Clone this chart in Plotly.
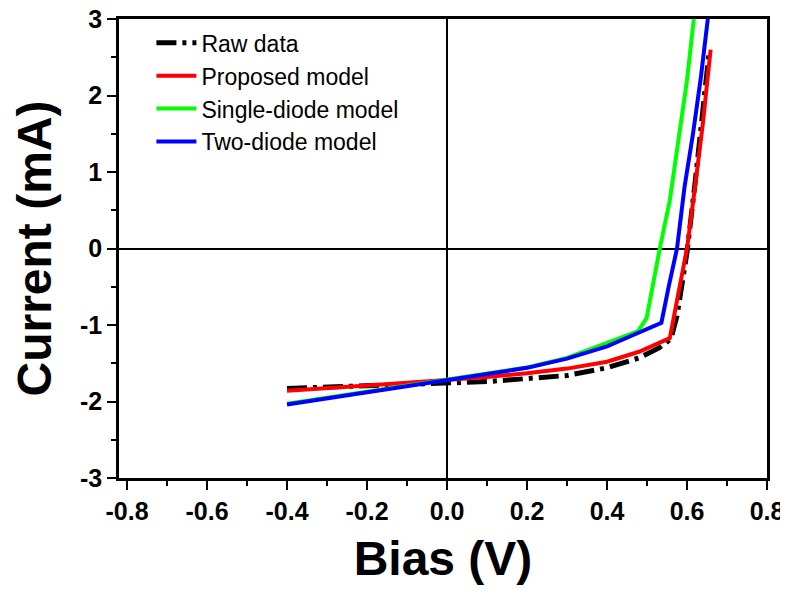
import plotly.graph_objects as go

# ---- data ----
raw_v = [-0.40, -0.30, -0.20, -0.10, 0.00, 0.10, 0.20, 0.30, 0.40, 0.48, 0.53, 0.56, 0.575, 0.60, 0.62, 0.64, 0.655]
raw_i = [-1.83, -1.81, -1.79, -1.77, -1.76, -1.74, -1.70, -1.66, -1.56, -1.43, -1.30, -1.18, -0.88, -0.05, 0.85, 1.80, 2.55]

prop_v = [-0.40, -0.30, -0.20, -0.10, 0.00, 0.10, 0.20, 0.30, 0.40, 0.48, 0.557, 0.58, 0.60, 0.62, 0.64, 0.659]
prop_i = [-1.86, -1.82, -1.79, -1.755, -1.72, -1.68, -1.63, -1.57, -1.48, -1.35, -1.17, -0.55, 0.0, 0.80, 1.65, 2.60]

single_v = [-0.40, -0.30, -0.20, -0.10, 0.00, 0.10, 0.20, 0.30, 0.40, 0.478, 0.499, 0.515, 0.532, 0.557, 0.582, 0.60, 0.617]
single_i = [-2.03, -1.95, -1.87, -1.79, -1.72, -1.64, -1.555, -1.43, -1.23, -1.08, -0.91, -0.45, 0.0, 0.63, 1.50, 2.20, 3.00]

two_v = [-0.40, -0.30, -0.20, -0.10, 0.00, 0.10, 0.20, 0.30, 0.40, 0.457, 0.536, 0.555, 0.575, 0.594, 0.615, 0.635, 0.652]
two_i = [-2.04, -1.96, -1.88, -1.80, -1.72, -1.65, -1.56, -1.44, -1.28, -1.15, -0.97, -0.48, 0.0, 0.81, 1.50, 2.25, 3.00]

x_ticks = [-0.8, -0.6, -0.4, -0.2, 0.0, 0.2, 0.4, 0.6, 0.8]
x_labels = ["-0.8", "-0.6", "-0.4", "-0.2", "0.0", "0.2", "0.4", "0.6", "0.8"]
y_ticks = [-3, -2, -1, 0, 1, 2, 3]
y_labels = ["-3", "-2", "-1", "0", "1", "2", "3"]

FONT = "Liberation Sans, Arial, sans-serif"

fig = go.Figure()
fig.add_trace(go.Scatter(x=raw_v, y=raw_i, mode="lines", name="Raw data",
                         line=dict(color="black", width=5, dash="20px,6px,4px,6px")))
fig.add_trace(go.Scatter(x=prop_v, y=prop_i, mode="lines", name="Proposed model",
                         line=dict(color="#ff0000", width=4)))
fig.add_trace(go.Scatter(x=single_v, y=single_i, mode="lines", name="Single-diode model",
                         line=dict(color="#00ff00", width=4)))
fig.add_trace(go.Scatter(x=two_v, y=two_i, mode="lines", name="Two-diode model",
                         line=dict(color="#0000ff", width=4)))

axis_common = dict(
    showline=True, linecolor="black", linewidth=2.5, mirror=True,
    showgrid=False, ticks="outside", ticklen=9, tickwidth=2, tickcolor="black",
    zeroline=True, zerolinecolor="black", zerolinewidth=2,
    automargin=False, ticklabeloverflow="allow",
    tickfont=dict(family=FONT, size=25, color="black", weight="bold"),
)

fig.update_xaxes(
    range=[-0.82, 0.8], tickvals=x_ticks, ticktext=x_labels,
    minor=dict(dtick=0.1, ticks="outside", ticklen=5, tickwidth=2, tickcolor="black"),
    title=dict(text="Bias (V)", font=dict(family=FONT, size=48, color="black", weight="bold"), standoff=18),
    **axis_common,
)
fig.update_yaxes(
    range=[-3, 3], tickvals=y_ticks, ticktext=y_labels,
    minor=dict(dtick=0.5, ticks="outside", ticklen=5, tickwidth=2, tickcolor="black"),
    title=dict(text="Current (mA)", font=dict(family=FONT, size=48, color="black", weight="bold"), standoff=19),
    **axis_common,
)

# page body has an 8px offset, so the figure is sized/margined to compensate
fig.update_layout(
    width=780, height=585,
    margin=dict(l=111, r=21, t=11, b=115),
    plot_bgcolor="white", paper_bgcolor="white",
    showlegend=True,
    legend=dict(x=0.05, y=0.995, xanchor="left", yanchor="top",
                bgcolor="rgba(0,0,0,0)", borderwidth=0, itemwidth=40,
                tracegroupgap=0,
                font=dict(family=FONT, size=23, color="black")),
)

fig.write_html("out.html")
